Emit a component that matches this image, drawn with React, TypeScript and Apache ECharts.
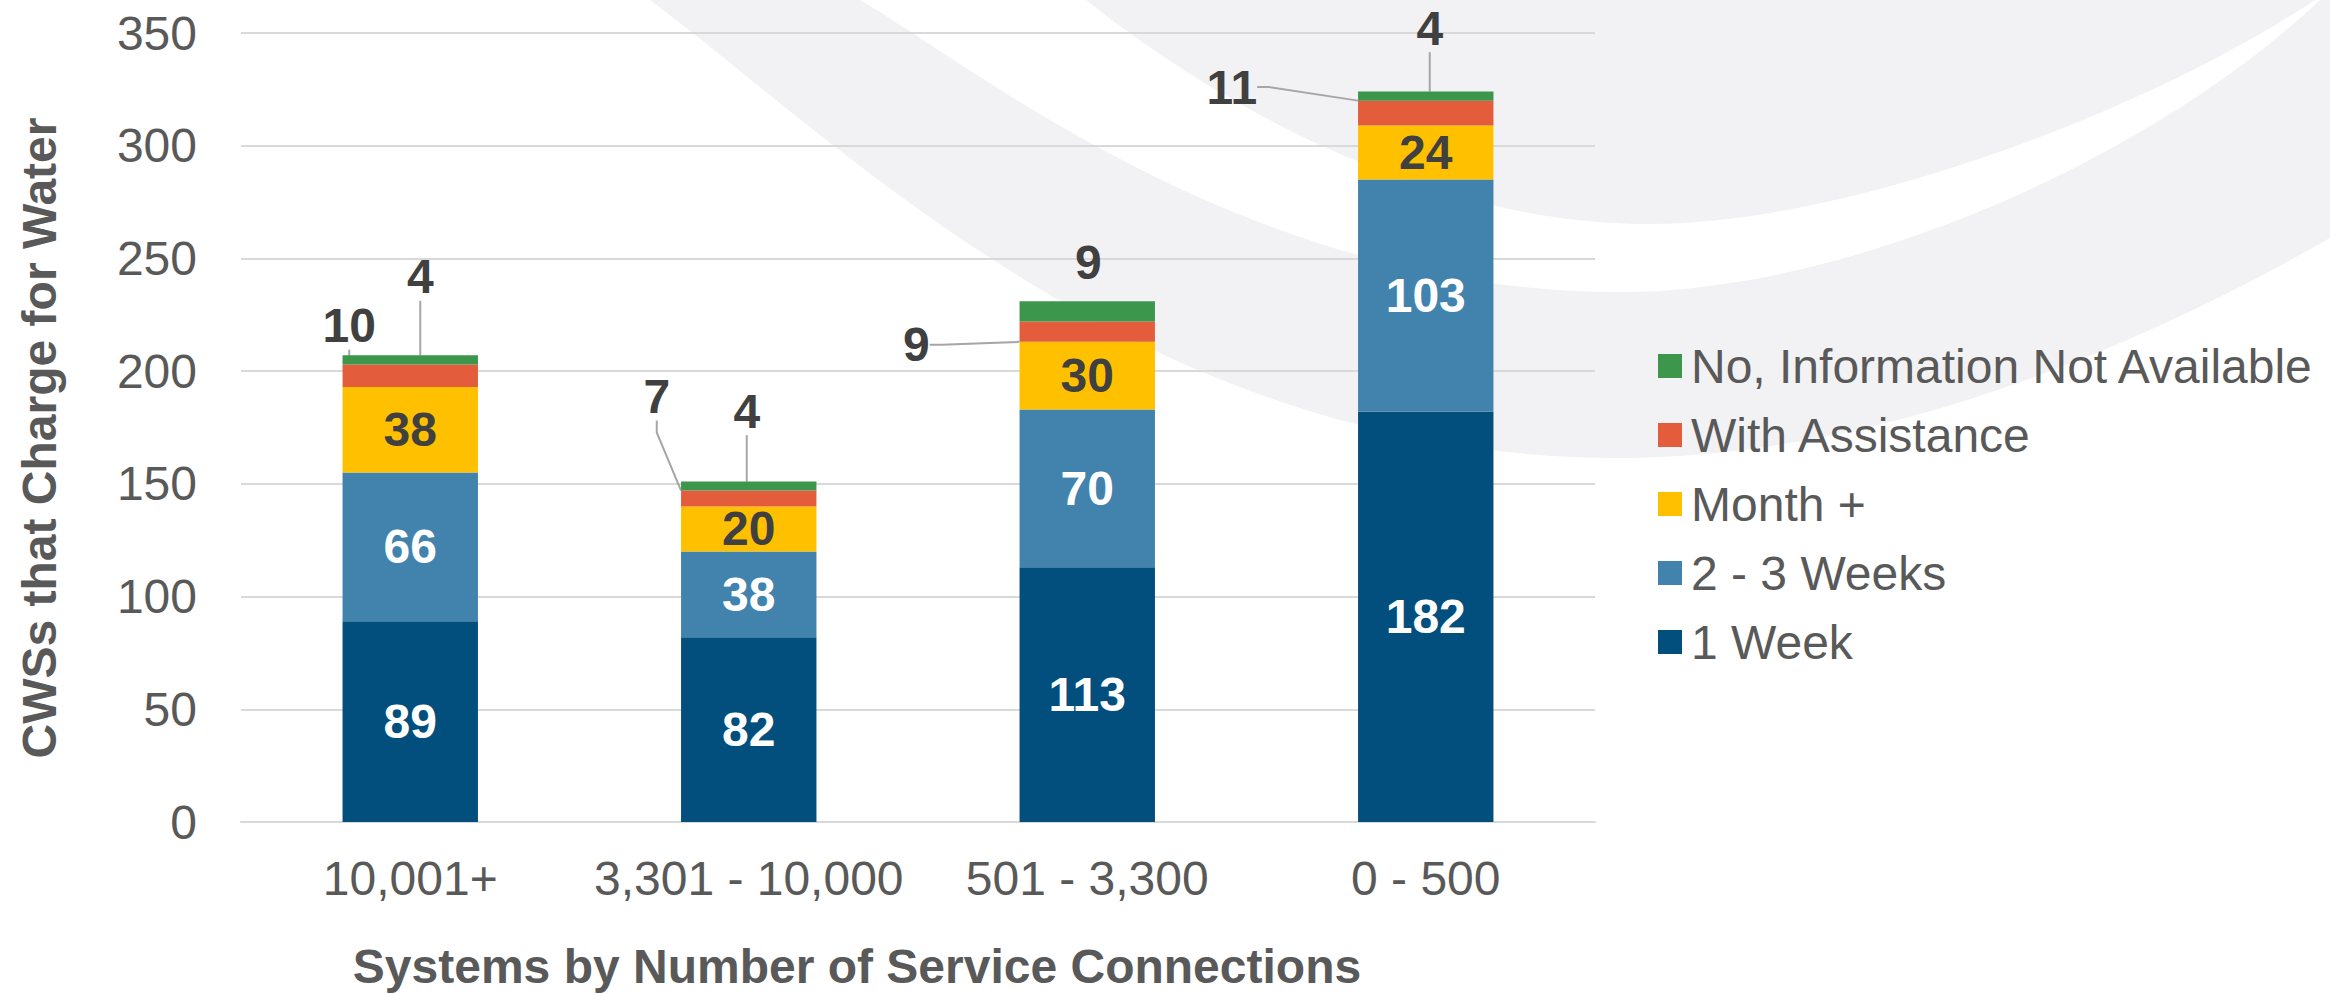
import { useEffect, useRef } from 'react';
import * as echarts from 'echarts';

// ---- data ----
const categories = ['10,001+', '3,301 - 10,000', '501 - 3,300', '0 - 500'];
const seriesNames = ['1 Week', '2 - 3 Weeks', 'Month +', 'With Assistance', 'No, Information Not Available'];
const oneWeek = [89, 82, 113, 182];
const twoThreeWeeks = [66, 38, 70, 103];
const monthPlus = [38, 20, 30, 24];
const withAssistance = [10, 7, 9, 11];
const noInfo = [4, 4, 9, 4];
const yTickMin = 0;
const yTickMax = 350;
const yTickStep = 50;

// ---- layout / style ----
const FONT = '"Liberation Sans", Arial, Helvetica, sans-serif';
const FS = 48;
const COLORS = ['#024F7D', '#4283AE', '#FFC000', '#E35D3C', '#3C964B'];
const TEXT = '#595959';
const LABEL_DARK = '#404040';
const GRID_LINE = '#D9D9D9';
const BG_GRAY = '#F2F2F4';
// label offsets (px) of the small outside labels from their segment centre
const waOffsets = [[-61, -50], [-92, -102], [-171, 13], [-194, -26]];
const niOffsets = [[10, -83], [-2, -75], [1, -49], [4, -68]];
const niLineShown = [true, true, false, true];

const BG_PATHS = {
  bgOuter: 'M650,0 C850,150 1150,458 1620,458 C1850,458 2100,370 2330,238 L2345,228 L2345,0 Z',
  bgBand: 'M860,0 C980,70 1250,292 1620,292 C1850,292 2150,160 2320,0 Z',
  bgInner: 'M1086,0 C1180,75 1400,224 1650,224 C1850,224 2150,110 2315,0 Z',
};
Object.entries(BG_PATHS).forEach(([name, d]) => {
  echarts.graphic.registerShape(name, echarts.graphic.extendPath(d, {}) as any);
});

export default function App() {
  const ref = useRef<HTMLDivElement>(null);

  useEffect(() => {
    document.body.style.margin = '0';
    if (!ref.current) return;
    const chart = echarts.init(ref.current, undefined, { renderer: 'svg' });
    const labelFont = { fontFamily: FONT, fontSize: FS, fontWeight: 'bold' as const };
    const base = { type: 'bar' as const, stack: 'total', barWidth: '40%' };

    chart.setOption({
      animation: false,
      backgroundColor: '#FFFFFF',
      textStyle: { fontFamily: FONT },
      graphic: [
        { type: 'bgOuter', z: -10, silent: true, style: { fill: BG_GRAY } },
        { type: 'bgBand', z: -9, silent: true, style: { fill: '#FFFFFF' } },
        { type: 'bgInner', z: -8, silent: true, style: { fill: BG_GRAY } },
        {
          type: 'text', x: 857, y: 966, silent: true,
          style: {
            text: 'Systems by Number of Service Connections', fill: TEXT,
            font: `bold ${FS}px ${FONT}`, textAlign: 'center', textVerticalAlign: 'middle',
            align: 'center', verticalAlign: 'middle',
          },
        },
        {
          type: 'text', x: 39, y: 438, rotation: Math.PI / 2, silent: true,
          style: {
            text: 'CWSs that Charge for Water', fill: TEXT,
            font: `bold ${FS}px ${FONT}`, textAlign: 'center', textVerticalAlign: 'middle',
            align: 'center', verticalAlign: 'middle',
          },
        },
      ],
      grid: { left: 241, right: 735, top: 33, bottom: 172, containLabel: false, outerBoundsMode: 'none' },
      legend: {
        orient: 'vertical',
        left: 1653,
        top: 337,
        icon: 'rect',
        itemWidth: 24,
        itemHeight: 24,
        itemGap: 21,
        selectedMode: false,
        data: [...seriesNames].reverse(),
        textStyle: { color: TEXT, fontSize: FS, fontFamily: FONT, lineHeight: 48, padding: [0, 0, 0, 4] },
      },
      xAxis: {
        type: 'category',
        data: categories,
        axisTick: { show: false },
        axisLine: { lineStyle: { color: GRID_LINE, width: 2 } },
        axisLabel: { color: TEXT, fontSize: FS, fontFamily: FONT, margin: 32, interval: 0 },
      },
      yAxis: {
        type: 'value',
        min: yTickMin,
        max: yTickMax,
        interval: yTickStep,
        axisLine: { show: false },
        axisTick: { show: false },
        splitLine: { lineStyle: { color: GRID_LINE, width: 2 } },
        axisLabel: { color: TEXT, fontSize: FS, fontFamily: FONT, margin: 44 },
      },
      series: [
        {
          ...base, name: seriesNames[0], data: oneWeek,
          itemStyle: { color: COLORS[0] },
          label: { show: true, position: 'inside', color: '#FFFFFF', ...labelFont },
        },
        {
          ...base, name: seriesNames[1], data: twoThreeWeeks,
          itemStyle: { color: COLORS[1] },
          label: { show: true, position: 'inside', color: '#FFFFFF', ...labelFont },
        },
        {
          ...base, name: seriesNames[2], data: monthPlus,
          itemStyle: { color: COLORS[2] },
          label: { show: true, position: 'inside', color: LABEL_DARK, ...labelFont },
        },
        {
          ...base, name: seriesNames[3], data: withAssistance,
          itemStyle: { color: COLORS[3] },
          label: { show: true, position: 'inside', color: LABEL_DARK, ...labelFont },
          labelLine: { show: true, length2: 12, lineStyle: { color: '#A6A6A6', width: 2 } },
          labelLayout: (p: any) => ({ dx: waOffsets[p.dataIndex][0], dy: waOffsets[p.dataIndex][1] }),
        },
        {
          ...base, name: seriesNames[4],
          data: noInfo.map((v, i) => ({ value: v, labelLine: { show: niLineShown[i] } })),
          itemStyle: { color: COLORS[4] },
          label: { show: true, position: 'inside', color: LABEL_DARK, ...labelFont },
          labelLine: { show: true, length2: 8, lineStyle: { color: '#A6A6A6', width: 2 } },
          labelLayout: (p: any) => ({ dx: niOffsets[p.dataIndex][0], dy: niOffsets[p.dataIndex][1] }),
        },
      ],
    });

    return () => chart.dispose();
  }, []);

  return (
    <div
      ref={ref}
      style={{ position: 'absolute', left: 0, top: 0, width: 2330, height: 994 }}
    />
  );
}
